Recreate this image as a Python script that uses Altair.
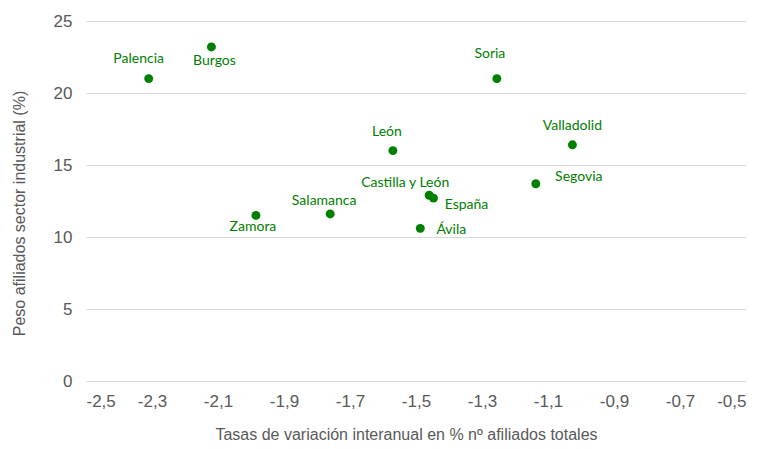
import altair as alt
import pandas as pd

# Data
names = ["Palencia", "Burgos", "Zamora", "Salamanca", "León", "Castilla y León",
         "España", "Ávila", "Soria", "Valladolid", "Segovia"]
variacion = [-2.31, -2.12, -1.985, -1.76, -1.57, -1.46, -1.447, -1.487, -1.255, -1.026, -1.137]
peso = [21.0, 23.2, 11.5, 11.6, 16.0, 12.9, 12.7, 10.6, 21.0, 16.4, 13.7]
x_ticks = [-2.5, -2.3, -2.1, -1.9, -1.7, -1.5, -1.3, -1.1, -0.9, -0.7, -0.5]
y_ticks = [0, 5, 10, 15, 20, 25]

# Label placement relative to each point (pixels)
label_offsets = {
    "Palencia": (-10, -20),
    "Burgos": (3, 14),
    "Zamora": (-3, 12),
    "Salamanca": (-6, -13),
    "León": (-6, -19),
    "Castilla y León": (-24, -12),
    "España": (33, 7),
    "Ávila": (31, 2),
    "Soria": (-7, -25),
    "Valladolid": (0, -19),
    "Segovia": (43, -7),
}

df = pd.DataFrame({"name": names, "x": variacion, "y": peso})

GREEN = "#008000"
GRAY = "#595959"

x_enc = alt.X(
    "x:Q",
    scale=alt.Scale(domain=[-2.5, -0.5], nice=False, zero=False),
    axis=alt.Axis(
        values=x_ticks,
        labelExpr="'-' + replace(format(abs(datum.value), '.1f'), '.', ',')",
        grid=False, domain=False, ticks=False,
        labelPadding=12, labelFontSize=17, labelColor=GRAY, labelFont="Liberation Sans",
        title="Tasas de variación interanual en % nº afiliados totales",
        titleFontSize=16, titleFontWeight="normal", titleColor=GRAY,
        titleFont="Liberation Sans", titleX=320, titleY=53,
        titleBaseline="middle", titleAlign="center",
    ),
)
y_enc = alt.Y(
    "y:Q",
    scale=alt.Scale(domain=[0, 25], nice=False),
    axis=alt.Axis(
        values=y_ticks,
        grid=True, gridColor="#d9d9d9", gridWidth=1,
        domain=False, ticks=False,
        labelPadding=14, labelFontSize=17, labelColor=GRAY, labelFont="Liberation Sans",
        title="Peso afiliados sector industrial (%)",
        titleFontSize=16, titleFontWeight="normal", titleColor=GRAY,
        titleFont="Liberation Sans", titleX=-67, titleY=192, titleAngle=-90,
        titleBaseline="middle", titleAlign="center",
    ),
)

base = alt.Chart(df)

points = base.mark_circle(size=80, color=GREEN, opacity=1).encode(x=x_enc, y=y_enc)

labels = []
for n in names:
    dx, dy = label_offsets[n]
    labels.append(
        base.transform_filter(alt.datum.name == n)
        .mark_text(dx=dx, dy=dy, color=GREEN, font="Lato", fontSize=14,
                   align="center", baseline="middle")
        .encode(x=alt.X("x:Q"), y=alt.Y("y:Q"), text="name:N")
    )

chart = alt.layer(points, *labels).properties(
    width=660,
    height=360,
    autosize=alt.AutoSizeParams(type="none"),
    padding={"left": 78, "top": 13, "right": 9, "bottom": 60},
).configure_view(stroke=None)

chart.save("out.html", embed_options={"renderer": "svg", "actions": False})
